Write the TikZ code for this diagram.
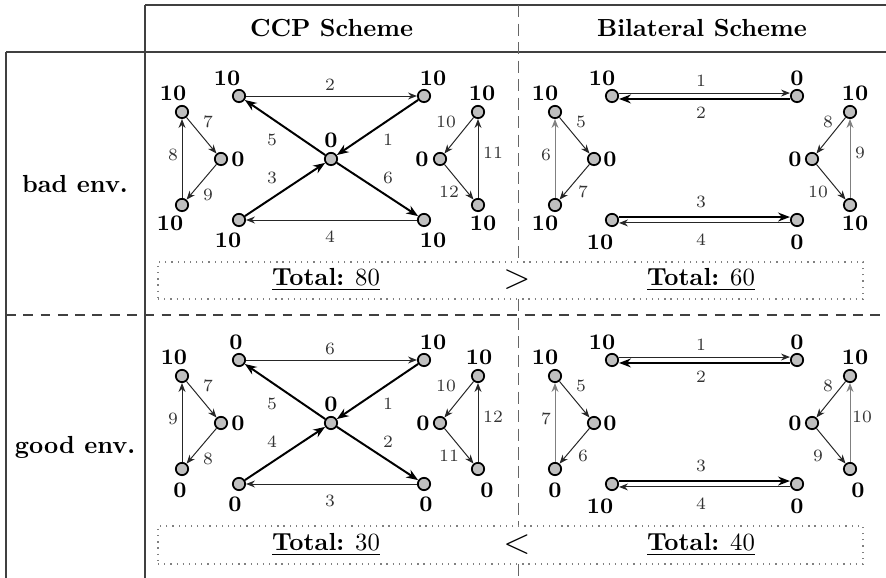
\documentclass[tikz,border=0pt]{standalone}
\usetikzlibrary{arrows.meta}
\newcommand\ccpnodes[1]{%
  \node[vert] (#1tl) at (239,96) {};
  \node[vert] (#1tr) at (424,96) {};
  \node[vert] (#1c)  at (331,159) {};
  \node[vert] (#1bl) at (239,220) {};
  \node[vert] (#1br) at (424,220) {};
  \node[vert] (#1lt) at (182,112) {};
  \node[vert] (#1lm) at (221,159) {};
  \node[vert] (#1lb) at (182,205) {};
  \node[vert] (#1rt) at (478,112) {};
  \node[vert] (#1rm) at (440,159) {};
  \node[vert] (#1rb) at (478,205) {};
}
\newcommand\ccpedges[1]{%
  \draw[thn] (#1tl) -- (#1tr);
  \draw[thk] (#1tr) -- (#1c);
  \draw[thk] (#1c) -- (#1tl);
  \draw[thk] (#1bl) -- (#1c);
  \draw[thk] (#1c) -- (#1br);
  \draw[thn] (#1br) -- (#1bl);
  \draw[thn] (#1lt) -- (#1lm);
  \draw[thn] (#1lm) -- (#1lb);
  \draw[thn] (#1lb) -- (#1lt);
  \draw[thn] (#1rt) -- (#1rm);
  \draw[thn] (#1rm) -- (#1rb);
  \draw[thn] (#1rb) -- (#1rt);
}
\newcommand\bilnodes[1]{%
  \node[vert] (#1lt)  at (555,112) {};
  \node[vert] (#1lm)  at (594,159) {};
  \node[vert] (#1lb)  at (555,205) {};
  \node[vert] (#1ptl) at (612,96) {};
  \node[vert] (#1ptr) at (797,96) {};
  \node[vert] (#1pbl) at (612,220) {};
  \node[vert] (#1pbr) at (797,220) {};
  \node[vert] (#1rt)  at (850,112) {};
  \node[vert] (#1rm)  at (812,159) {};
  \node[vert] (#1rb)  at (850,205) {};
}
\newcommand\biledges[1]{%
  \draw[thn] ([yshift=1.2pt]#1ptl.east) -- ([yshift=1.2pt]#1ptr.west);
  \draw[thk] ([yshift=-1.2pt]#1ptr.west) -- ([yshift=-1.2pt]#1ptl.east);
  \draw[thk] ([yshift=1.2pt]#1pbl.east) -- ([yshift=1.2pt]#1pbr.west);
  \draw[thn] ([yshift=-1.2pt]#1pbr.west) -- ([yshift=-1.2pt]#1pbl.east);
  \draw[thn] (#1lt) -- (#1lm);
  \draw[thn] (#1lm) -- (#1lb);
  \draw[greyedge] (#1lb) -- (#1lt);
  \draw[thn] (#1rt) -- (#1rm);
  \draw[thn] (#1rm) -- (#1rb);
  \draw[greyedge] (#1rb) -- (#1rt);
}
\begin{document}
\begin{tikzpicture}[x=0.4049pt,y=-0.4049pt,
  vert/.style={circle,draw,fill=gray!50,line width=0.7pt,minimum size=5pt,inner sep=0pt},
  val/.style={font=\small\bfseries,inner sep=0pt},
  elab/.style={font=\scriptsize,text=black!80,inner sep=0pt},
  thk/.style={line width=0.8pt,-{Stealth[length=4.8pt,width=3.6pt]}},
  thn/.style={line width=0.4pt,draw=black!85,-{Stealth[length=3.6pt,width=2.8pt]}},
  greyedge/.style={thn,draw=black!50},
  tbl/.style={line width=0.5pt,draw=black!75},
  hdash/.style={line width=0.5pt,draw=black!75,dash pattern=on 4pt off 3pt},
  vdash/.style={line width=0.4pt,draw=black!60,dash pattern=on 5pt off 2.5pt},
  totbox/.style={draw=black!50,dotted,line width=0.5pt},
  hdr/.style={font=\bfseries,inner sep=0pt}]
\useasboundingbox (0,0) rectangle (886,578);

% table rules
\draw[tbl] (145,5) -- (886,5);
\draw[tbl] (6,52) -- (886,52);
\draw[tbl] (6,52) -- (6,578);
\draw[tbl] (145,5) -- (145,578);
\draw[hdash] (6,315) -- (886,315);
\draw[vdash] (518,5) -- (518,262);
\draw[vdash] (518,299) -- (518,526);
\draw[vdash] (518,564) -- (518,578);

% headers
\node[hdr] (hccp) at (331.5,28) {CCP Scheme};
\node[hdr] (hbil) at (702,28) {Bilateral Scheme};
\node[hdr] (hbad) at (75,184) {bad env.};
\node[hdr] (hgood) at (75,447) {good env.};

% totals
\node[totbox,minimum width=705*0.4049pt,minimum height=37*0.4049pt,inner sep=0pt] (tb1) at (510.5,280.5) {};
\node[inner sep=0pt] (t1a) at (326,280) {\underline{\textbf{Total:} 80}};
\node[inner sep=0pt,font=\Large] (t1c) at (517,280) {$>$};
\node[inner sep=0pt] (t1b) at (701,280) {\underline{\textbf{Total:} 60}};
\node[totbox,minimum width=705*0.4049pt,minimum height=38*0.4049pt,inner sep=0pt] (tb2) at (510.5,545) {};
\node[inner sep=0pt] (t2a) at (326,545) {\underline{\textbf{Total:} 30}};
\node[inner sep=0pt,font=\Large] (t2c) at (517,545) {$<$};
\node[inner sep=0pt] (t2b) at (701,545) {\underline{\textbf{Total:} 40}};

% ===== CCP bad =====
\ccpnodes{a}
\ccpedges{a}
\node[val] (av1) at (227,78) {10};
\node[val] (av2) at (433,78) {10};
\node[val] (av3) at (331,140) {0};
\node[val] (av4) at (228,240) {10};
\node[val] (av5) at (433,240) {10};
\node[val] (av6) at (173,93) {10};
\node[val] (av7) at (238,159) {0};
\node[val] (av8) at (170,223) {10};
\node[val] (av9) at (482,93) {10};
\node[val] (av10) at (422,159) {0};
\node[val] (av11) at (483,223) {10};
\node[elab] (ae2) at (330,85) {2};
\node[elab] (ae4) at (330,237) {4};
\node[elab] (ae5) at (272,140) {5};
\node[elab] (ae1) at (388,140) {1};
\node[elab] (ae3) at (272,178) {3};
\node[elab] (ae6) at (388,178) {6};
\node[elab] (ae7) at (208,122) {7};
\node[elab] (ae8) at (173,155) {8};
\node[elab] (ae9) at (208,195) {9};
\node[elab] (ae10) at (446,122) {10};
\node[elab] (ae11) at (493,153) {11};
\node[elab] (ae12) at (449,192) {12};

% ===== Bilateral bad =====
\bilnodes{b}
\biledges{b}
\node[val] (bv1) at (602,78) {10};
\node[val] (bv2) at (797,78) {0};
\node[val] (bv3) at (600,242) {10};
\node[val] (bv4) at (797,242) {0};
\node[val] (bv5) at (545,93) {10};
\node[val] (bv6) at (610,159) {0};
\node[val] (bv7) at (545,223) {10};
\node[val] (bv8) at (855,93) {10};
\node[val] (bv9) at (795,159) {0};
\node[val] (bv10) at (855,223) {10};
\node[elab] (be1) at (701,81) {1};
\node[elab] (be2) at (701,113) {2};
\node[elab] (be3) at (701,202) {3};
\node[elab] (be4) at (701,240) {4};
\node[elab] (be5) at (581,122) {5};
\node[elab] (be6) at (546,155) {6};
\node[elab] (be7) at (583,192) {7};
\node[elab] (be8) at (828,122) {8};
\node[elab] (be9) at (860,153) {9};
\node[elab] (be10) at (818,192) {10};

\begin{scope}[shift={(0,264)}]
% ===== CCP good =====
\ccpnodes{c}
\ccpedges{c}
\node[val] (cv1) at (236,78) {0};
\node[val] (cv2) at (433,78) {10};
\node[val] (cv3) at (331,140) {0};
\node[val] (cv4) at (235,240) {0};
\node[val] (cv5) at (426,240) {0};
\node[val] (cv6) at (174,93) {10};
\node[val] (cv7) at (238,159) {0};
\node[val] (cv8) at (180,226) {0};
\node[val] (cv9) at (479,93) {10};
\node[val] (cv10) at (423,159) {0};
\node[val] (cv11) at (487,226) {0};
\node[elab] (ce6) at (330,85) {6};
\node[elab] (ce3) at (330,237) {3};
\node[elab] (ce5) at (272,140) {5};
\node[elab] (ce1) at (388,140) {1};
\node[elab] (ce4) at (272,178) {4};
\node[elab] (ce2) at (388,178) {2};
\node[elab] (ce7) at (208,122) {7};
\node[elab] (ce9) at (173,155) {9};
\node[elab] (ce8) at (208,195) {8};
\node[elab] (ce10) at (446,122) {10};
\node[elab] (ce12) at (493,153) {12};
\node[elab] (ce11) at (449,192) {11};

% ===== Bilateral good =====
\bilnodes{d}
\biledges{d}
\node[val] (dv1) at (602,78) {10};
\node[val] (dv2) at (797,78) {0};
\node[val] (dv3) at (600,242) {10};
\node[val] (dv4) at (797,242) {0};
\node[val] (dv5) at (545,93) {10};
\node[val] (dv6) at (610,159) {0};
\node[val] (dv7) at (555,226) {0};
\node[val] (dv8) at (855,93) {10};
\node[val] (dv9) at (795,159) {0};
\node[val] (dv10) at (858,226) {0};
\node[elab] (de1) at (701,81) {1};
\node[elab] (de2) at (701,113) {2};
\node[elab] (de3) at (701,202) {3};
\node[elab] (de4) at (701,240) {4};
\node[elab] (de5) at (581,122) {5};
\node[elab] (de7) at (546,155) {7};
\node[elab] (de6) at (583,192) {6};
\node[elab] (de8) at (828,122) {8};
\node[elab] (de10) at (862,153) {10};
\node[elab] (de9) at (818,192) {9};
\end{scope}
\end{tikzpicture}
\end{document}
